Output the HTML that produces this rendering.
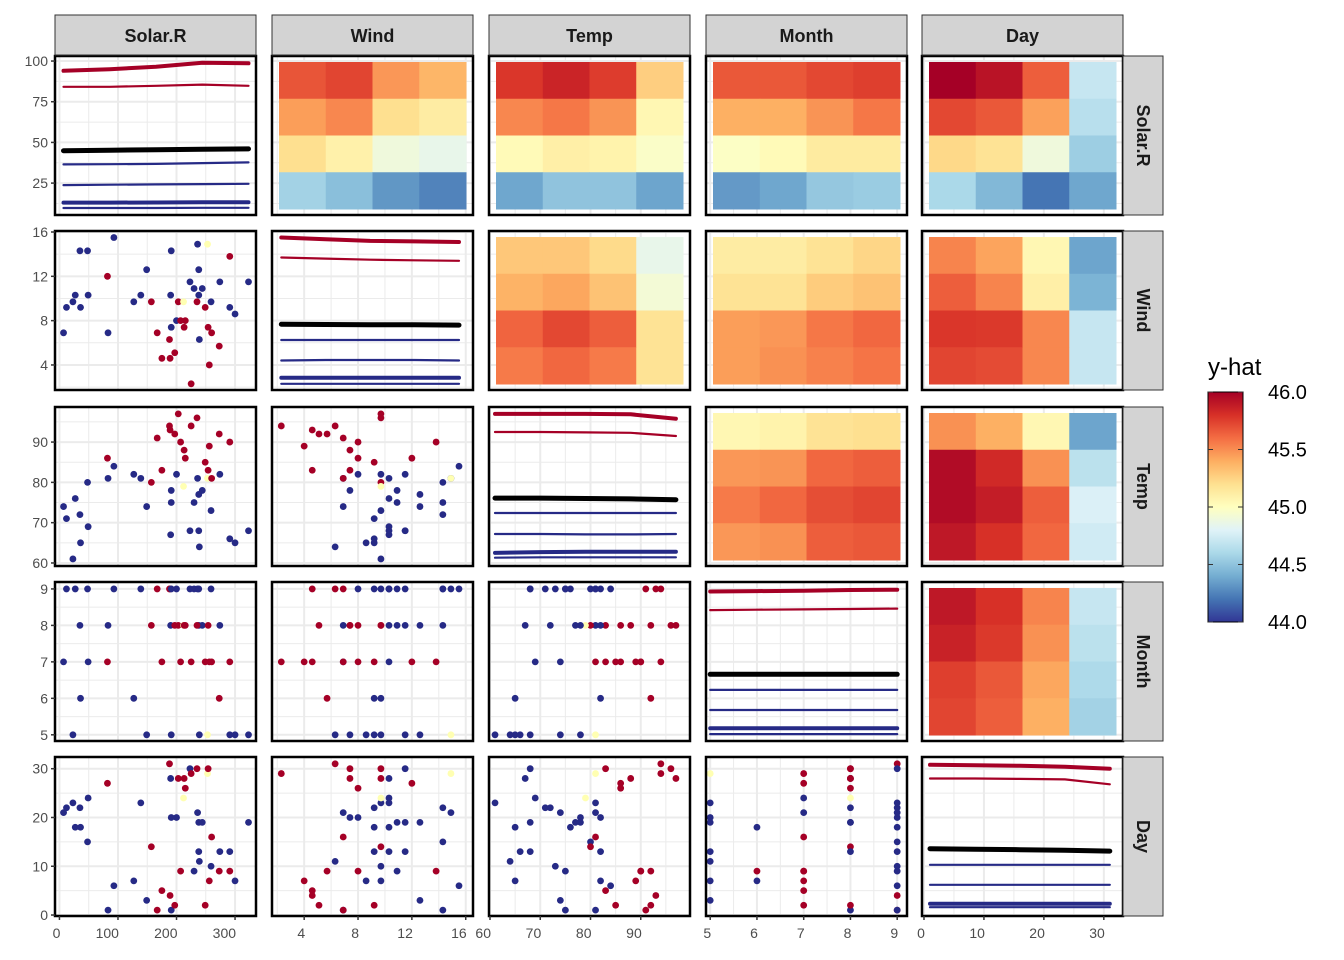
<!DOCTYPE html>
<html><head><meta charset="utf-8"><style>
html,body{margin:0;padding:0;background:#fff;}
svg{display:block;font-family:"Liberation Sans",Arial,sans-serif;}
</style></head><body>
<svg id="chart" width="1344" height="960" viewBox="0 0 1344 960" xmlns="http://www.w3.org/2000/svg"></svg>
<script>
// ---------- data ----------
const varNames = ["Solar.R","Wind","Temp","Month","Day"];
const solarVals = [7,12,23,27,35,36,48,49,82,83,93,127,139,149,157,167,175,188,189,190,191,191,197,200,203,207,212,213,215,223,225,230,236,238,238,239,244,249,253,254,256,259,260,273,274,291,291,300,323,235];
const windVals  = [6.9,9.2,9.7,10.3,14.3,9.2,14.3,10.3,12,6.9,15.5,9.7,10.3,12.6,9.7,6.9,4.6,6.3,4.6,10.3,7.4,14.3,5.1,8.0,9.7,8.0,9.7,7.4,8.0,11.5,2.3,10.9,14.9,12.6,10.3,6.3,10.9,9.2,14.9,7.4,4.0,9.7,6.9,5.7,11.5,13.8,9.2,8.6,11.5,9.7];
const tempVals  = [74,71,61,76,72,65,80,69,86,81,84,82,81,74,80,91,83,94,93,67,78,75,92,82,97,90,79,88,86,68,94,75,81,77,68,64,78,85,81,83,89,73,81,92,82,90,66,65,68,96];
const monthVals = [7,9,5,9,8,6,9,7,7,8,9,6,9,5,8,9,7,9,9,8,5,9,8,9,8,7,8,8,8,9,7,9,9,8,9,5,8,7,5,8,7,9,7,6,8,7,5,5,5,8];
const dayVals   = [21,22,23,18,22,18,15,24,27,1,6,7,23,3,14,1,5,31,4,28,20,1,2,20,28,9,24,28,26,30,29,9,21,19,13,11,19,2,29,30,7,10,16,9,13,9,13,7,19,30];
const pointClass= ["b","b","b","b","b","b","b","b","r","b","b","b","b","b","r","r","r","r","r","b","b","b","r","b","r","r","y","r","r","b","r","b","b","b","b","b","b","r","y","r","r","b","r","r","b","r","b","b","b","r"];

// heatmaps: y-hat values, rows top->bottom, cols left->right
const heatSolarWind  = [[45.68,45.73,45.47,45.37],[45.45,45.52,45.2,45.12],[45.2,45.09,44.9,44.85],[44.57,44.48,44.32,44.25]];
const heatSolarTemp  = [[45.78,45.85,45.76,45.27],[45.52,45.57,45.48,45.05],[45.03,45.1,45.08,44.97],[44.38,44.5,44.5,44.37]];
const heatSolarMonth = [[45.67,45.67,45.72,45.75],[45.39,45.39,45.48,45.57],[44.98,45.03,45.13,45.13],[44.33,44.38,44.52,44.54]];
const heatSolarDay   = [[46.0,45.92,45.65,44.7],[45.72,45.67,45.44,44.65],[45.23,45.18,44.9,44.55],[44.6,44.45,44.2,44.38]];
const heatWindTemp   = [[45.3,45.3,45.22,44.85],[45.38,45.42,45.32,44.92],[45.63,45.72,45.65,45.18],[45.56,45.62,45.56,45.18]];
const heatWindMonth  = [[45.12,45.12,45.18,45.24],[45.18,45.18,45.28,45.32],[45.45,45.47,45.57,45.62],[45.45,45.49,45.54,45.58]];
const heatWindDay    = [[45.53,45.43,45.05,44.37],[45.65,45.53,45.1,44.43],[45.78,45.77,45.52,44.7],[45.73,45.71,45.52,44.7]];
const heatTempMonth  = [[45.05,45.08,45.18,45.2],[45.47,45.48,45.62,45.65],[45.56,45.62,45.7,45.73],[45.47,45.49,45.65,45.67]];
const heatTempDay    = [[45.49,45.39,45.05,44.37],[45.95,45.83,45.49,44.66],[45.95,45.88,45.65,44.78],[45.9,45.8,45.62,44.74]];
const heatMonthDay   = [[45.9,45.8,45.53,44.7],[45.86,45.77,45.49,44.66],[45.75,45.67,45.42,44.61],[45.73,45.65,45.39,44.57]];

// diagonal curves (values of row variable at 5 evenly spaced points across x-variable range)
const diagSolar = [[94,95,96.5,99,98.6],[84.2,84.2,84.8,85.5,84.8],[44.9,45.2,45.5,45.8,46],[36.5,36.6,36.8,37.3,37.7],[23.8,24,24.2,24.4,24.6],[13,13,13.1,13.2,13.2],[9.7,9.7,9.7,9.8,9.8]];
const diagWind  = [[15.5,15.35,15.2,15.15,15.1],[13.7,13.6,13.5,13.45,13.4],[7.67,7.65,7.63,7.62,7.6],[6.25,6.25,6.25,6.25,6.25],[4.4,4.45,4.45,4.45,4.4],[2.85,2.85,2.85,2.85,2.85],[2.3,2.3,2.3,2.3,2.3]];
const diagTemp  = [[97,97,97,96.9,95.8],[92.5,92.5,92.4,92.3,91.5],[76.1,76.1,76,75.9,75.7],[72.4,72.4,72.4,72.4,72.4],[67.2,67.2,67.1,67.1,67.2],[62.5,62.7,62.8,62.8,62.8],[61.3,61.4,61.4,61.4,61.4]];
const diagMonth = [[8.93,8.94,8.95,8.97,8.98],[8.42,8.43,8.44,8.45,8.46],[6.66,6.66,6.66,6.66,6.66],[6.23,6.23,6.23,6.23,6.23],[5.68,5.68,5.68,5.68,5.68],[5.18,5.18,5.18,5.18,5.18],[5.02,5.02,5.02,5.02,5.02]];
const diagDay   = [[30.8,30.7,30.6,30.4,30],[28,28,27.9,27.8,26.8],[13.6,13.5,13.4,13.3,13.1],[10.3,10.3,10.3,10.3,10.3],[6.2,6.2,6.2,6.2,6.2],[2.3,2.3,2.3,2.3,2.3],[1.6,1.6,1.6,1.6,1.6]];

const xTicks = [[0,100,200,300],[4,8,12,16],[60,70,80,90],[5,6,7,8,9],[0,10,20,30]];
const yTicks = [[25,50,75,100],[4,8,12,16],[60,70,80,90],[5,6,7,8,9],[0,10,20,30]];
const legendTicks = [44.0,44.5,45.0,45.5,46.0];

// ---------- layout / scales ----------
const NS="http://www.w3.org/2000/svg";
const svg=document.getElementById("chart");
const colLeft=[55,272,489,706,922], rowTop=[56,231,407,582,757], PW=201, PH=159;
const xDom=[[-7.6,335.8],[1.61,16.54],[59.8,99.8],[4.91,9.21],[-0.33,33.2]];
const yDom=[[5.4,103.1],[1.74,16.09],[59.25,98.7],[4.83,9.19],[-0.2,32.4]];
const dataCols=[solarVals,windVals,tempVals,monthVals,dayVals];
const diagData=[diagSolar,diagWind,diagTemp,diagMonth,diagDay];
const heat={ "0_1":heatSolarWind,"0_2":heatSolarTemp,"0_3":heatSolarMonth,"0_4":heatSolarDay,"1_2":heatWindTemp,"1_3":heatWindMonth,"1_4":heatWindDay,"2_3":heatTempMonth,"2_4":heatTempDay,"3_4":heatMonthDay};
function xs(c,v){return colLeft[c]+(v-xDom[c][0])/(xDom[c][1]-xDom[c][0])*PW;}
function ys(r,v){return rowTop[r]+PH-(v-yDom[r][0])/(yDom[r][1]-yDom[r][0])*PH;}
const stops=["#313695","#4575b4","#74add1","#abd9e9","#e0f3f8","#ffffbf","#fee090","#fdae61","#f46d43","#d73027","#a50026"];
function hex(h){return [parseInt(h.substr(1,2),16),parseInt(h.substr(3,2),16),parseInt(h.substr(5,2),16)];}
function cmap(v){let t=Math.max(0,Math.min(1,(v-44)/2))*10;let i=Math.min(9,Math.floor(t));let f=t-i;let a=hex(stops[i]),b=hex(stops[i+1]);
 return "rgb("+a.map((x,k)=>Math.round(x+(b[k]-x)*f)).join(",")+")";}
function el(tag,attrs,parent){const e=document.createElementNS(NS,tag);for(const k in attrs)e.setAttribute(k,attrs[k]);(parent||svg).appendChild(e);return e;}
const ptColor={b:"#262a86",r:"#a50026",y:"#ffffb2"};
const lineColor=["#a50026","#a50026","#000000","#262a86","#262a86","#262a86","#262a86"];
const lineWidth=[4,2.2,5,2.2,2.2,4,2.2];

for(let r=0;r<5;r++){for(let c=0;c<5;c++){
  const g=el("g",{});
  
  
  const L=colLeft[c],T=rowTop[r];
  el("rect",{x:L,y:T,width:PW,height:PH,fill:"#fff"},g);
  const xt=xTicks[c],yt=yTicks[r];
  const xstep=xt[1]-xt[0], ystep=yt[1]-yt[0];
  for(let v=xt[0]-xstep;v<=xt[xt.length-1]+xstep;v+=xstep/2){const x=xs(c,v);if(x<L||x>L+PW)continue;
    const major=Math.abs(((v-xt[0])/xstep)%1)<1e-6;
    el("line",{x1:x,x2:x,y1:T,y2:T+PH,stroke:"#ebebeb","stroke-width":major?2:1},g);}
  for(let v=yt[0]-ystep;v<=yt[yt.length-1]+ystep;v+=ystep/2){const y=ys(r,v);if(y<T||y>T+PH)continue;
    const major=Math.abs(((v-yt[0])/ystep)%1)<1e-6;
    el("line",{x1:L,x2:L+PW,y1:y,y2:y,stroke:"#ebebeb","stroke-width":major?2:1},g);}
  if(c>r){
    const hm=heat[r+"_"+c];const ix=7,iy=6,cw=(PW-2*ix)/4,ch=(PH-2*iy)/4;
    for(let i=0;i<4;i++)for(let j=0;j<4;j++){
      const cell=el("rect",{x:L+ix+j*cw,y:T+iy+i*ch,width:cw+0.5,height:ch+0.5,fill:cmap(hm[i][j])},g);
      
      
    }
  } else if(c<r){
    const xv=dataCols[c],yv=dataCols[r];
    for(let k=0;k<xv.length;k++){
      const p=el("circle",{cx:xs(c,xv[k]),cy:ys(r,yv[k]),r:3.4,fill:ptColor[pointClass[k]]},g);
      
      
    }
  } else {
    const vals=dataCols[c];const mn=Math.min(...vals),mx=Math.max(...vals);
    const lines=diagData[r];
    lines.forEach((ln,li)=>{
      const pts=ln.map((v,k)=>xs(c,mn+(mx-mn)*k/(ln.length-1)).toFixed(1)+","+ys(r,v).toFixed(1)).join(" ");
      const pl=el("polyline",{points:pts,fill:"none",stroke:lineColor[li],"stroke-width":lineWidth[li],"stroke-linecap":"round","stroke-linejoin":"round"},g);
      
      
    });
  }
  el("rect",{x:L,y:T,width:PW,height:PH,fill:"none",stroke:"#000","stroke-width":2.5},g);
  if(c===0){yt.forEach(v=>{const y=ys(r,v);
    el("line",{x1:L-4,x2:L,y1:y,y2:y,stroke:"#333","stroke-width":1.5},g);
    const t=el("text",{x:L-7,y:y+5,"text-anchor":"end","font-size":"14",fill:"#4d4d4d"},g);t.textContent=v;
    
    });}
  if(r===4){xt.forEach(v=>{const x=xs(c,v);
    el("line",{x1:x,x2:x,y1:T+PH,y2:T+PH+4,stroke:"#333","stroke-width":1.5},g);
    const t=el("text",{x:x+1,y:T+PH+22,"text-anchor":"end","font-size":"14",fill:"#4d4d4d"},g);t.textContent=v;
    
    });}
}}
for(let c=0;c<5;c++){const g=el("g",{});
  
  
  el("rect",{x:colLeft[c],y:15,width:PW,height:40,fill:"#d3d3d3",stroke:"#333","stroke-width":1},g);
  const t=el("text",{x:colLeft[c]+PW/2,y:42,"text-anchor":"middle","font-size":"18","font-weight":"bold",fill:"#1a1a1a"},g);t.textContent=varNames[c];}
for(let r=0;r<5;r++){const g=el("g",{});
  
  
  el("rect",{x:1123,y:rowTop[r],width:40,height:PH,fill:"#d3d3d3",stroke:"#333","stroke-width":1},g);
  const cx=1143,cy=rowTop[r]+PH/2;
  const t=el("text",{x:cx,y:cy,"text-anchor":"middle","dominant-baseline":"central","font-size":"18","font-weight":"bold",fill:"#1a1a1a",transform:"rotate(90 "+cx+" "+cy+")"},g);t.textContent=varNames[r];}
const lg=el("g",{});


const defs=el("defs",{});const grad=el("linearGradient",{id:"lgrad",x1:"0",y1:"1",x2:"0",y2:"0"},defs);
stops.forEach((s,i)=>el("stop",{offset:(i/10),"stop-color":s},grad));
const lt=el("text",{x:1208,y:375,"font-size":"24",fill:"#000"},lg);lt.textContent="y-hat";


const LB={x:1208,y:392,w:35,h:230};
el("rect",{x:LB.x,y:LB.y,width:LB.w,height:LB.h,fill:"url(#lgrad)",stroke:"#000","stroke-width":1},lg);
legendTicks.forEach(v=>{const y=LB.y+LB.h-(v-44)/2*LB.h;
  el("line",{x1:LB.x,x2:LB.x+5,y1:y,y2:y,stroke:"#333","stroke-width":1},lg);
  el("line",{x1:LB.x+LB.w-5,x2:LB.x+LB.w,y1:y,y2:y,stroke:"#333","stroke-width":1},lg);
  const t=el("text",{x:1268,y:y+7,"font-size":"20",fill:"#000"},lg);t.textContent=v.toFixed(1);
  
  });
</script>
</body></html>
